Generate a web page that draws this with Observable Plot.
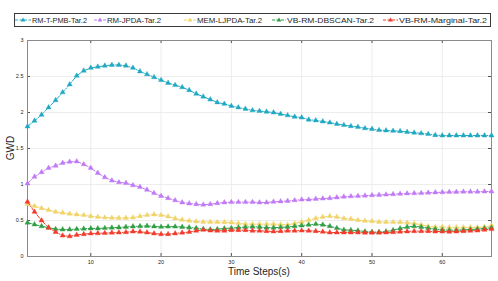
<!DOCTYPE html>
<html><head><meta charset="utf-8">
<script src="https://cdn.jsdelivr.net/npm/d3@7"></script>
<script src="https://cdn.jsdelivr.net/npm/@observablehq/plot@0.6"></script>
<style>
body{margin:0;background:#fff;font-family:"Liberation Sans",Arial,sans-serif;}
#wrap{position:relative;width:498px;height:281px;overflow:hidden;}
.lab{position:absolute;color:#262626;white-space:nowrap;font-size:10px;}
#legend{position:absolute;left:14px;top:13px;}
</style></head>
<body><div id="wrap"></div>
<script>
const timeSteps = d3.range(1, 68);
const seriesNames = ["RM-T-PMB-Tar.2","RM-JPDA-Tar.2","MEM-LJPDA-Tar.2","VB-RM-DBSCAN-Tar.2","VB-RM-Marginal-Tar.2"];
const seriesColors = ["#1ea8c2","#c07af5","#f0d468","#2f9e45","#f23b2a"];
const xTicks = [10,20,30,40,50,60];
const yTicks = [0,0.5,1,1.5,2,2.5,3];

const rmTPMB = [1.806,1.885,1.968,2.07,2.17,2.28,2.39,2.51,2.58,2.62,2.635,2.65,2.66,2.66,2.65,2.62,2.57,
 2.53,2.49,2.45,2.41,2.38,2.35,2.31,2.26,2.22,2.18,2.14,2.12,2.09,
 2.07,2.05,2.03,2.02,2.01,2.00,1.98,1.96,1.94,1.93,
 1.90,1.89,1.875,1.86,1.84,1.825,1.81,1.80,1.78,1.77,
 1.755,1.75,1.745,1.74,1.73,1.72,1.71,1.70,1.685,1.68,
 1.68,1.68,1.68,1.68,1.68,1.68,1.68];
const rmJPDA = [1.014,1.107,1.17,1.23,1.26,1.30,1.315,1.32,1.28,1.23,1.16,1.10,1.055,1.03,1.02,0.99,0.965,
 0.926,0.88,0.84,0.81,0.78,0.75,0.736,0.727,0.72,0.727,0.74,0.75,0.755,0.755,0.755,0.755,
 0.75,0.75,0.76,0.765,0.77,0.78,0.79,
 0.79,0.80,0.805,0.81,0.82,0.83,0.835,0.84,0.845,0.85,
 0.855,0.86,0.865,0.87,0.875,0.878,0.88,0.885,0.89,0.892,
 0.895,0.897,0.9,0.9,0.9,0.902,0.903];
const memLJPDA = [0.73,0.70,0.67,0.645,0.62,0.607,0.593,0.583,0.575,0.56,0.55,0.54,0.537,0.535,0.535,0.54,0.56,
 0.575,0.583,0.575,0.556,0.528,0.51,0.496,0.486,0.48,0.48,0.478,0.476,0.472,
 0.46,0.45,0.45,0.45,0.45,0.45,0.445,0.44,0.46,0.48,
 0.505,0.53,0.55,0.56,0.55,0.53,0.52,0.505,0.495,0.49,
 0.48,0.478,0.478,0.475,0.47,0.46,0.44,0.42,0.41,0.41,
 0.405,0.405,0.405,0.405,0.405,0.41,0.43];
const vbDBSCAN = [0.47,0.445,0.42,0.40,0.38,0.375,0.375,0.38,0.385,0.39,0.39,0.394,0.40,0.403,0.41,0.417,0.42,
 0.425,0.417,0.412,0.415,0.415,0.41,0.403,0.394,0.38,0.375,0.378,0.39,0.394,0.403,0.408,0.412,
 0.41,0.40,0.40,0.405,0.41,0.42,0.43,
 0.44,0.45,0.44,0.42,0.394,0.37,0.366,0.36,0.347,0.34,
 0.34,0.347,0.366,0.39,0.41,0.42,0.41,0.394,0.38,0.37,
 0.366,0.366,0.37,0.375,0.38,0.39,0.40];
const vbMarginal = [0.76,0.62,0.50,0.40,0.34,0.29,0.28,0.30,0.31,0.32,0.322,0.325,0.33,0.333,0.337,0.347,0.343,
 0.333,0.32,0.31,0.31,0.32,0.33,0.34,0.357,0.37,0.36,0.357,0.357,0.366,0.366,0.366,0.357,
 0.357,0.352,0.347,0.352,0.357,0.357,0.36,
 0.357,0.352,0.343,0.333,0.333,0.333,0.333,0.333,0.33,0.33,
 0.33,0.333,0.337,0.343,0.347,0.352,0.352,0.352,0.347,0.347,
 0.343,0.347,0.352,0.357,0.36,0.37,0.38];

const allSeries = [rmTPMB, rmJPDA, memLJPDA, vbDBSCAN, vbMarginal];
const W = 498, H = 281, mL = 27, mR = 7, mT = 40, mB = 25;
const tickLen = 3 * 3 / (H - mT - mB);
const tickLenX = 3 * 66 / (W - mL - mR);

const seriesMarks = [];
allSeries.forEach((vals, i) => {
  const rows = timeSteps.map((t, j) => ({t, v: vals[j]}));
  seriesMarks.push(Plot.line(rows, {x: "t", y: "v", stroke: seriesColors[i], strokeWidth: 1, strokeDasharray: "4,1.5,1,1.5"}));
  seriesMarks.push(Plot.dot(rows, {x: "t", y: "v", symbol: "triangle", r: 1.9, fill: seriesColors[i], stroke: seriesColors[i], strokeWidth: 0.4}));
});

const chart = Plot.plot({
  width: W, height: H,
  marginLeft: mL, marginRight: mR, marginTop: mT, marginBottom: mB,
  style: {fontFamily: "Liberation Sans, Arial, sans-serif", fontSize: "5.5px", color: "#262626", background: "#fff"},
  x: {domain: [1, 67]},
  y: {domain: [0, 3]},
  marks: [
    Plot.ruleX(xTicks, {stroke: "#e8e8e8", strokeWidth: 0.8}),
    Plot.ruleY(yTicks, {stroke: "#e8e8e8", strokeWidth: 0.8}),
    Plot.ruleX(xTicks, {y1: 0, y2: tickLen, stroke: "#555"}),
    Plot.ruleX(xTicks, {y1: 3 - tickLen, y2: 3, stroke: "#555"}),
    Plot.ruleY(yTicks, {x1: 1, x2: 1 + tickLenX, stroke: "#555"}),
    Plot.ruleY(yTicks, {x1: 67 - tickLenX, x2: 67, stroke: "#555"}),
    Plot.frame({stroke: "#8a8a8a"}),
    Plot.axisX(xTicks, {tickSize: 0, tickPadding: 4, label: null, fill: "#262626"}),
    Plot.axisY(yTicks, {tickSize: 0, tickPadding: 4, label: null, tickFormat: d => String(d), fill: "#262626"}),
    ...seriesMarks
  ]
});
const wrap = document.getElementById("wrap");
wrap.appendChild(chart);

const xl = document.createElement("div");
xl.className = "lab"; xl.textContent = "Time Steps(s)";
xl.style.left = "0px"; xl.style.width = W + "px"; xl.style.textAlign = "center"; xl.style.paddingLeft = "20px"; xl.style.boxSizing="border-box";
xl.style.top = "266px";
wrap.appendChild(xl);
const yl = document.createElement("div");
yl.className = "lab"; yl.textContent = "GWD";
yl.style.left = "10px"; yl.style.top = "148px";
yl.style.transform = "translate(-50%,-50%) rotate(-90deg)";
wrap.appendChild(yl);

// legend (page coords offsets relative to legend box at x=14,y=13)
const markerLefts = [15, 94, 184, 272, 383];
const textLefts = [32, 107, 197, 287, 399];
const textWidths = [55, 54, 65, 87, 88];
const LW = 477, LH = 14;
let svg = `<svg width="${LW}" height="${LH}" xmlns="http://www.w3.org/2000/svg" style="display:block">` +
  `<rect x="0.5" y="0.5" width="${LW-1}" height="${LH-1}" fill="#fff" stroke="#3a3a3a" stroke-width="1"/>`;
seriesNames.forEach((name, i) => {
  const c = seriesColors[i];
  const m0 = markerLefts[i] - 14, m1 = textLefts[i] - 14 - 1, mc = (m0 + m1) / 2;
  svg += `<line x1="${m0}" x2="${m1}" y1="7" y2="7" stroke="${c}" stroke-width="1" stroke-dasharray="3,1.5"/>` +
    `<path d="M${mc},4.6L${mc+2.4},8.6L${mc-2.4},8.6Z" fill="${c}"/>` +
    `<text x="${textLefts[i]-14}" y="10" font-size="8" font-family="Liberation Sans, Arial, sans-serif" fill="#262626" textLength="${textWidths[i]}" lengthAdjust="spacingAndGlyphs">${name}</text>`;
});
svg += `</svg>`;
const legend = document.createElement("div");
legend.id = "legend";
legend.innerHTML = svg;
wrap.appendChild(legend);
</script></body></html>
